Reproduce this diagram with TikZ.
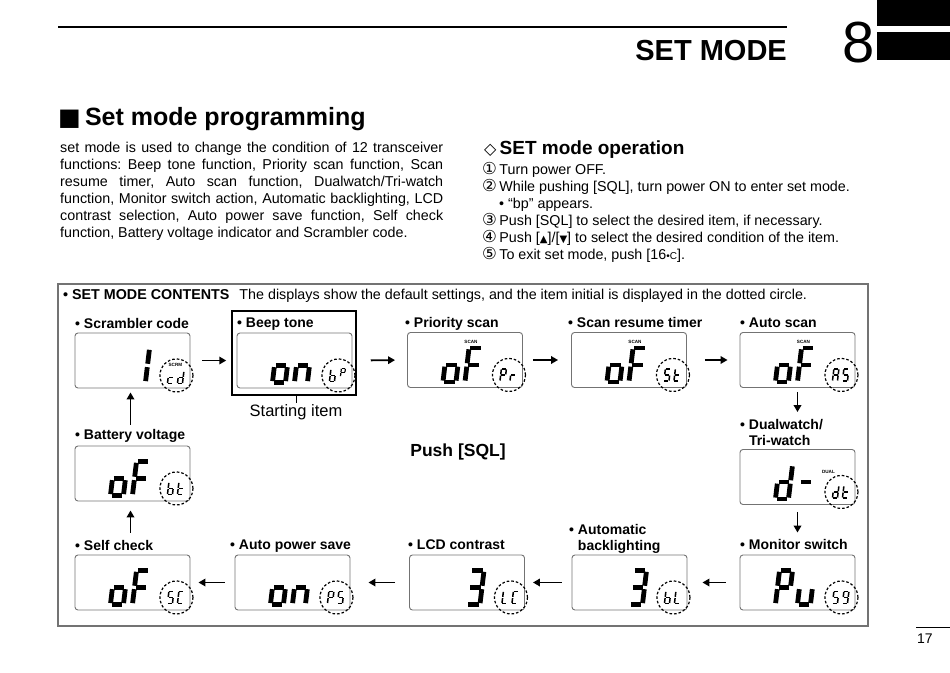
\documentclass[tikz,border=0pt]{standalone}
\usepackage{fontspec}
\setmainfont{Liberation Sans}
\newfontfamily\djv{DejaVu Sans}
\usetikzlibrary{arrows.meta,calc}
\frenchspacing
\tikzset{
  seg a/.code={\draw (0.1,2)--(0.9,2);},
  seg b/.code={\draw (1,1.92)--(1,1.1);},
  seg c/.code={\draw (1,0.9)--(1,0.08);},
  seg d/.code={\draw (0.1,0)--(0.9,0);},
  seg e/.code={\draw (0,0.08)--(0,0.9);},
  seg f/.code={\draw (0,1.1)--(0,1.92);},
  seg g/.code={\draw (0.1,1)--(0.9,1);},
  lcd/.style={draw=black!55, line width=0.9pt, rounded corners=3pt, minimum width=115pt, minimum height=55pt, inner sep=0pt},
  dotc/.style={draw=black, line width=1.2pt, dash pattern=on 2.6pt off 2pt},
  arr/.style={line width=1.8pt, -{Triangle[length=7pt,width=7.5pt]}},
  lbl/.style={anchor=base west, inner sep=0pt, font=\bfseries\fontsize{14}{15.5}\selectfont, align=left},
  body/.style={anchor=base west, inner sep=0pt, font=\fontsize{14.3}{17}\selectfont},
  tiny/.style={inner sep=0pt, font=\bfseries\fontsize{4.6}{5}\selectfont},
  circnum/.style={font=\djv\fontsize{16.5}{16}\selectfont},
}
\newcommand\sseg[6]{%
  \begin{scope}[shift={(#1,#2)},x={(#3pt,0pt)},y={({0.12*#4pt},{#4pt})},line width=#5pt]
    \foreach \s in {#6}{\tikzset{seg \s/.try}}
  \end{scope}}
\newcommand\lcdbig[3]{%
  \begin{scope}[shift={(#1.south east)}]
    \sseg{-80}{-6}{13}{17}{4.8}{#2}
    \sseg{-58}{-6}{13}{17}{4.8}{#3}
    \draw[dotc] (-14,-13) circle[radius=16.5pt];
  \end{scope}}
\newcommand\lcdsmall[4]{%
  \begin{scope}[shift={(#1.south east)}]
    \sseg{-23}{#4}{5}{6}{1.5}{#2}
    \sseg{-13}{#4}{5}{6}{1.5}{#3}
  \end{scope}}
\newcommand\cn[1]{{\djv\fontsize{16.5}{16}\selectfont #1}}
\begin{document}
\begin{tikzpicture}[x=1pt,y=-1pt]
\useasboundingbox (0,0) rectangle (950,672);
% ---------- page header
\draw[line width=2.2pt] (58,27) -- (787,27);
\node[anchor=base east,inner sep=0pt,font=\bfseries\fontsize{29}{29}\selectfont] (title) at (787,60) {SET MODE};
\node[anchor=base east,inner sep=0pt,font=\fontsize{58}{58}\selectfont] (chap) at (875,62) {8};
\fill (877,0) rectangle (950,26);
\fill (877,32) rectangle (950,60);
% ---------- left column
\node[anchor=base west,inner sep=0pt,font=\bfseries\fontsize{25}{25}\selectfont] (h1) at (58,125) {{\djv\fontsize{24}{24}\selectfont ■}\,Set mode programming};
\node[body] (l1) at (60,152) {\makebox[383pt][s]{set mode is used to change the condition of 12 transceiver}};
\node[body] (l2) at (60,169) {\makebox[383pt][s]{functions: Beep tone function, Priority scan function, Scan}};
\node[body] (l3) at (60,186) {\makebox[383pt][s]{resume timer, Auto scan function, Dualwatch/Tri-watch}};
\node[body] (l4) at (60,203) {\makebox[383pt][s]{function, Monitor switch action, Automatic backlighting, LCD}};
\node[body] (l5) at (60,220) {\makebox[383pt][s]{contrast selection, Auto power save function, Self check}};
\node[body] (l6) at (60,237) {function, Battery voltage indicator and Scrambler code.};
% ---------- right column
\node[anchor=base west,inner sep=0pt,font=\bfseries\fontsize{19}{19}\selectfont] (h2) at (484,154) {{\djv\fontsize{16}{16}\selectfont ◇}\,SET mode operation};
\node[body] (r1) at (482,174) {\cn{①}\,Turn power OFF.};
\node[body] (r2) at (482,191) {\cn{②}\,While pushing [SQL], turn power ON to enter set mode.};
\node[body] (r3) at (499,208) {• “bp” appears.};
\node[body] (r4) at (482,225) {\cn{③}\,Push [SQL] to select the desired item, if necessary.};
\node[body] (r5) at (482,242) {\cn{④}\,Push [{\djv\fontsize{10}{10}\selectfont ▲}]/[{\djv\fontsize{10}{10}\selectfont ▼}] to select the desired condition of the item.};
\node[body] (r6) at (482,259) {\cn{⑤}\,To exit set mode, push [16{\fontsize{10}{10}\selectfont •C}].};
% ---------- frame
\draw[black!55,line width=1.3pt] (58,284) rectangle (868,626);
\node[anchor=base west,inner sep=0pt,font=\fontsize{14.3}{15}\selectfont] (hdr) at (63,299) {\textbf{• SET MODE CONTENTS}\hspace{10pt}The displays show the default settings, and the item initial is displayed in the dotted circle.};
% ---------- displays
\node[lcd] (scr)  at (132.5,360.5) {};
\node[lcd] (beep) at (294.5,360.5) {};
\node[lcd] (pri)  at (465,360) {};
\node[lcd] (sr)   at (629,360) {};
\node[lcd] (auto) at (797.5,360) {};
\node[lcd] (dual) at (797.5,477) {};
\node[lcd] (mon)  at (797.5,582.5) {};
\node[lcd] (bl)   at (629.5,582.5) {};
\node[lcd] (lcdc) at (467,582.5) {};
\node[lcd] (aps)  at (292.5,582.5) {};
\node[lcd] (self) at (132.5,582.5) {};
\node[lcd] (bat)  at (132.5,473.5) {};
\node[draw=black,line width=1.5pt,minimum width=124pt,minimum height=84pt,inner sep=0pt] (beepframe) at (294,353) {};
% labels
\node[lbl] (t1) at (75,328) {• Scrambler code};
\node[lbl] (t2) at (237,327) {• Beep tone};
\node[lbl] (t3) at (405,327) {• Priority scan};
\node[lbl] (t4) at (568,327) {• Scan resume timer};
\node[lbl] (t5) at (740,327) {• Auto scan};
\node[lbl] (t6) at (740,445) {• Dualwatch/\\\hphantom{• }Tri-watch};
\node[lbl] (t7) at (740,549) {• Monitor switch};
\node[lbl] (t8) at (569,550) {• Automatic\\\hphantom{• }backlighting};
\node[lbl] (t9) at (408,549) {• LCD contrast};
\node[lbl] (t10) at (230,549) {• Auto power save};
\node[lbl] (t11) at (75,550) {• Self check};
\node[lbl] (t12) at (75,439) {• Battery voltage};
\node[anchor=base,inner sep=0pt,font=\bfseries\fontsize{17.5}{18}\selectfont] (push) at (458,456) {Push [SQL]};
\node[anchor=base,inner sep=1pt,font=\fontsize{16.5}{17}\selectfont] (start) at (296,416) {Starting item};
\draw[line width=0.8pt] (beepframe.south -| start.north) -- (start.north);
% ---------- display contents
\lcdbig{scr}{x}{b,c}
\node[tiny] (scrm) at ([shift={(-15,-24)}]scr.south east) {SCRM};
\lcdsmall{scr}{d,e,g}{b,c,d,e,g}{-5}
\lcdbig{beep}{c,d,e,g}{c,e,g}
\begin{scope}[shift={(beep.south east)}]
  \sseg{-23}{-7}{5}{6}{1.5}{c,d,e,f,g}
  \sseg{-12}{-12}{4}{4}{1.2}{a,b,e,f,g}
\end{scope}
\lcdbig{pri}{c,d,e,g}{a,e,f,g}
\node[tiny] (scan1) at ([shift={(-52,-46)}]pri.south east) {SCAN};
\lcdsmall{pri}{a,b,e,f,g}{e,g}{-7}
\lcdbig{sr}{c,d,e,g}{a,e,f,g}
\node[tiny] (scan2) at ([shift={(-52,-46)}]sr.south east) {SCAN};
\lcdsmall{sr}{a,c,d,f,g}{d,e,f,g}{-7}
\lcdbig{auto}{c,d,e,g}{a,e,f,g}
\node[tiny] (scan3) at ([shift={(-52,-46)}]auto.south east) {SCAN};
\lcdsmall{auto}{a,b,c,e,f,g}{a,c,d,f,g}{-7}
\lcdbig{dual}{b,c,d,e,g}{g}
\node[tiny] (duallbl) at ([shift={(-27,-33)}]dual.south east) {DUAL};
\lcdsmall{dual}{b,c,d,e,g}{d,e,f,g}{-7}
\lcdbig{mon}{a,b,e,f,g}{c,d,e}
\lcdsmall{mon}{a,c,d,f,g}{a,b,c,d,f,g}{-7}
\lcdbig{bl}{x}{a,b,c,d,g}
\lcdsmall{bl}{c,d,e,f,g}{d,e,f}{-7}
\lcdbig{lcdc}{x}{a,b,c,d,g}
\lcdsmall{lcdc}{d,e,f}{a,d,e,f}{-7}
\lcdbig{aps}{c,d,e,g}{c,e,g}
\lcdsmall{aps}{a,b,e,f,g}{a,c,d,f,g}{-7}
\lcdbig{self}{c,d,e,g}{a,e,f,g}
\lcdsmall{self}{a,c,d,f,g}{a,d,e,f}{-7}
\lcdbig{bat}{c,d,e,g}{a,e,f,g}
\lcdsmall{bat}{c,d,e,f,g}{d,e,f,g}{-7}
% ---------- arrows
\draw[arr,shorten <=12pt,shorten >=5pt] (scr.east) -- (scr.east -| beepframe.west);
\draw[arr,shorten <=14pt,shorten >=12pt] (beep.center -| beepframe.east) -- (pri.west);
\draw[arr,shorten <=10pt,shorten >=13pt] (pri.east) -- (sr.west);
\draw[arr,shorten <=18pt,shorten >=12pt] (sr.east) -- (auto.west);
\draw[arr,shorten <=4pt,shorten >=37pt] (auto.south) -- (dual.north);
\draw[arr,shorten <=7pt,shorten >=22pt] (dual.south) -- (mon.north);
\draw[arr,shorten <=14pt,shorten >=15pt] (mon.west) -- (bl.east);
\draw[arr,shorten <=10pt,shorten >=8pt] (bl.west) -- (lcdc.east);
\draw[arr,shorten <=14pt,shorten >=18pt] (lcdc.west) -- (aps.east);
\draw[arr,shorten <=10pt,shorten >=8pt] (aps.west) -- (self.east);
\draw[arr,shorten <=22pt,shorten >=9pt] ([xshift=-2pt]self.north) -- ([xshift=-2pt]bat.south);
\draw[arr,shorten <=21pt,shorten >=4pt] ([xshift=-2pt]bat.north) -- ([xshift=-2pt]scr.south);
% ---------- page number
\draw[line width=0.6pt] (916,627) -- (950,627);
\node[anchor=base west,inner sep=0pt,font=\fontsize{14}{15}\selectfont] (pg) at (917,643) {17};
\end{tikzpicture}
\end{document}
